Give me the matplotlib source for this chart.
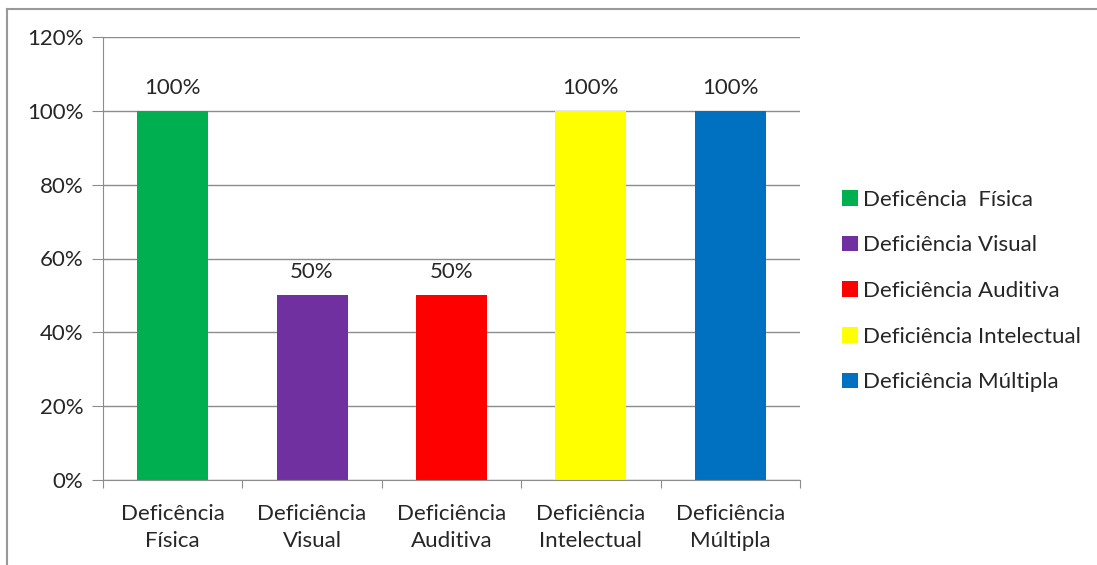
import matplotlib.pyplot as plt
from matplotlib.lines import Line2D
from matplotlib.patches import Patch

categorias = ['Deficência\nFísica', 'Deficiência\nVisual', 'Deficiência\nAuditiva',
              'Deficiência\nIntelectual', 'Deficiência\nMúltipla']
legenda = ['Deficência  Física', 'Deficiência Visual', 'Deficiência Auditiva',
           'Deficiência Intelectual', 'Deficiência Múltipla']
valores = [100, 50, 50, 100, 100]
cores = ['#00B050', '#7030A0', '#FF0000', '#FFFF00', '#0070C0']

plt.rcParams['font.family'] = ['Lato', 'DejaVu Sans']
tam = 16
cor_txt = '#262626'

fig = plt.figure(figsize=(10.97, 5.65), dpi=100)
ax = fig.add_axes([103/1097, 1-480/565, 697/1097, 443/565])

x = list(range(len(valores)))
ax.bar(x, valores, width=0.51, color=cores)
for xi, v in zip(x, valores):
    ax.text(xi, v + 3.5, '%d%%' % v, ha='center', va='bottom', fontsize=tam, color=cor_txt)

ax.set_xlim(-0.5, len(valores) - 0.5)
ax.set_ylim(0, 120)
ax.set_yticks(range(0, 121, 20))
ax.set_yticklabels(['%d%%' % t for t in range(0, 121, 20)], fontsize=tam, color=cor_txt)
ax.yaxis.grid(True, color='#8c8c8c', linewidth=1)
ax.set_axisbelow(True)

# ticks do eixo x nas fronteiras das categorias
ax.set_xticks([i - 0.5 for i in range(len(valores) + 1)])
ax.set_xticklabels([])
ax.set_xticks(x, minor=True)
ax.set_xticklabels(categorias, minor=True, fontsize=tam, color=cor_txt, linespacing=1.45)
ax.tick_params(axis='x', which='minor', length=0, pad=17)
ax.tick_params(axis='x', which='major', length=6, color='#8c8c8c')
ax.tick_params(axis='y', length=8, color='#8c8c8c', pad=6)

for s in ['top', 'right']:
    ax.spines[s].set_visible(False)
ax.spines['left'].set_color('#8c8c8c')
ax.spines['bottom'].set_color('#8c8c8c')

handles = [Patch(facecolor=c) for c in cores]
fig.legend(handles, legenda, loc='center left', bbox_to_anchor=(822/1097, 1-291/565),
           frameon=False, fontsize=tam, handlelength=0.7, handleheight=0.7,
           handletextpad=0.25, labelspacing=1.15, labelcolor=cor_txt)

# borda da figura (esquerda e topo)
fig.add_artist(Line2D([7/1097, 7/1097], [0, 1-9/565], transform=fig.transFigure,
                      color='#999999', linewidth=1.5))
fig.add_artist(Line2D([7/1097, 1], [1-9/565, 1-9/565], transform=fig.transFigure,
                      color='#999999', linewidth=1.5))

fig.savefig('out.png', dpi=100)
